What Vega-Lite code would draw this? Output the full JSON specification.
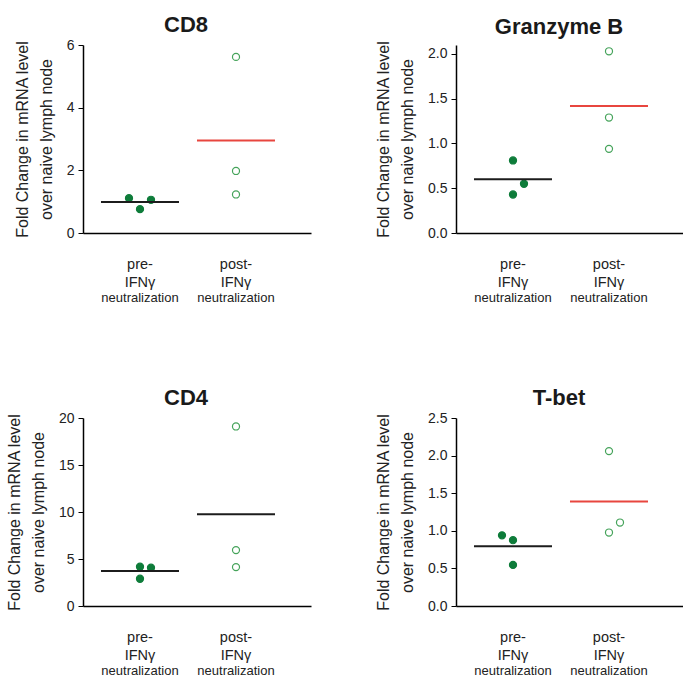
{
  "$schema": "https://vega.github.io/schema/vega-lite/v6.json",
  "padding": {"left": 6, "top": 14, "right": 0, "bottom": 0},
  "datasets": {
    "points": [
      {"gene": "CD8", "group": "pre", "slot": "left", "value": 1.11},
      {"gene": "CD8", "group": "pre", "slot": "center", "value": 0.76},
      {"gene": "CD8", "group": "pre", "slot": "right", "value": 1.06},
      {"gene": "CD8", "group": "post", "slot": "center", "value": 5.62},
      {"gene": "CD8", "group": "post", "slot": "center", "value": 1.98},
      {"gene": "CD8", "group": "post", "slot": "center", "value": 1.23},
      {"gene": "Granzyme B", "group": "pre", "slot": "center", "value": 0.81},
      {"gene": "Granzyme B", "group": "pre", "slot": "right", "value": 0.55},
      {"gene": "Granzyme B", "group": "pre", "slot": "center", "value": 0.43},
      {"gene": "Granzyme B", "group": "post", "slot": "center", "value": 2.03},
      {"gene": "Granzyme B", "group": "post", "slot": "center", "value": 1.29},
      {"gene": "Granzyme B", "group": "post", "slot": "center", "value": 0.94},
      {"gene": "CD4", "group": "pre", "slot": "center", "value": 4.18},
      {"gene": "CD4", "group": "pre", "slot": "right", "value": 4.07},
      {"gene": "CD4", "group": "pre", "slot": "center", "value": 2.9},
      {"gene": "CD4", "group": "post", "slot": "center", "value": 19.1},
      {"gene": "CD4", "group": "post", "slot": "center", "value": 5.95},
      {"gene": "CD4", "group": "post", "slot": "center", "value": 4.14},
      {"gene": "T-bet", "group": "pre", "slot": "left", "value": 0.94},
      {"gene": "T-bet", "group": "pre", "slot": "center", "value": 0.875},
      {"gene": "T-bet", "group": "pre", "slot": "center", "value": 0.546},
      {"gene": "T-bet", "group": "post", "slot": "center", "value": 2.06},
      {"gene": "T-bet", "group": "post", "slot": "center", "value": 0.977},
      {"gene": "T-bet", "group": "post", "slot": "right", "value": 1.11}
    ],
    "means": [
      {"gene": "CD8", "group": "pre", "value": 0.99, "sig": "no"},
      {"gene": "CD8", "group": "post", "value": 2.95, "sig": "yes"},
      {"gene": "Granzyme B", "group": "pre", "value": 0.6, "sig": "no"},
      {"gene": "Granzyme B", "group": "post", "value": 1.42, "sig": "yes"},
      {"gene": "CD4", "group": "pre", "value": 3.72, "sig": "no"},
      {"gene": "CD4", "group": "post", "value": 9.77, "sig": "no"},
      {"gene": "T-bet", "group": "pre", "value": 0.795, "sig": "no"},
      {"gene": "T-bet", "group": "post", "value": 1.39, "sig": "yes"}
    ]
  },
  "columns": 2,
  "spacing": {"row": 83, "column": 64},
  "concat": [
    {
      "title": {"text": "CD8"},
      "width": 228, "height": 188,
      "encoding": {
        "y": {"field": "value", "type": "quantitative", "scale": {"domain": [0, 6], "nice": false},
          "axis": {"values": [0, 2, 4, 6], "format": "d", "title": ["Fold Change in mRNA level", "over naive lymph node"]}}
      },
      "layer": [
        {"data": {"name": "points"}, "transform": [{"filter": "datum.gene === 'CD8'"}],
          "mark": {"type": "point", "shape": "circle", "size": 50, "strokeWidth": 1.2, "opacity": 1},
          "encoding": {
            "x": {"field": "group", "type": "nominal", "scale": {"domain": ["pre", "post"], "paddingInner": 0.65625, "paddingOuter": 0.5156, "align": 0.409},
              "axis": {"labelExpr": "datum.value === 'pre' ? ['pre-', 'IFNγ'] : ['post-', 'IFNγ']", "labelFontSize": 14.5, "labelLineHeight": 18, "labelPadding": 35}},
            "xOffset": {"field": "slot", "type": "nominal", "scale": {"domain": ["left", "center", "right"]}},
            "fill": {"field": "group", "type": "nominal", "scale": {"domain": ["pre", "post"], "range": ["#0e7c3a", "#ffffff"]}, "legend": null},
            "stroke": {"field": "group", "type": "nominal", "scale": {"domain": ["pre", "post"], "range": ["#0e7c3a", "#45a35a"]}, "legend": null}
          }},
        {"data": {"name": "means"}, "transform": [{"filter": "datum.gene === 'CD8'"}],
          "mark": {"type": "tick", "size": 78, "thickness": 2, "opacity": 1},
          "encoding": {
            "x": {"field": "group", "type": "nominal", "scale": {"domain": ["pre", "post"], "paddingInner": 0.65625, "paddingOuter": 0.5156, "align": 0.409},
              "axis": {"orient": "bottom", "domain": false, "labelExpr": "'neutralization'", "labelFontSize": 13, "labelPadding": 68}},
            "color": {"field": "sig", "type": "nominal", "scale": {"domain": ["no", "yes"], "range": ["#1c1c1c", "#e8463f"]}, "legend": null}
          }}
      ],
      "resolve": {"scale": {"x": "independent"}, "axis": {"x": "independent"}}
    },
    {
      "title": {"text": "Granzyme B"},
      "width": 228, "height": 188,
      "encoding": {
        "y": {"field": "value", "type": "quantitative", "scale": {"domain": [0, 2.1], "nice": false},
          "axis": {"values": [0, 0.5, 1, 1.5, 2], "format": ".1f", "title": ["Fold Change in mRNA level", "over naive lymph node"]}}
      },
      "layer": [
        {"data": {"name": "points"}, "transform": [{"filter": "datum.gene === 'Granzyme B'"}],
          "mark": {"type": "point", "shape": "circle", "size": 50, "strokeWidth": 1.2, "opacity": 1},
          "encoding": {
            "x": {"field": "group", "type": "nominal", "scale": {"domain": ["pre", "post"], "paddingInner": 0.65625, "paddingOuter": 0.5156, "align": 0.409},
              "axis": {"labelExpr": "datum.value === 'pre' ? ['pre-', 'IFNγ'] : ['post-', 'IFNγ']", "labelFontSize": 14.5, "labelLineHeight": 18, "labelPadding": 35}},
            "xOffset": {"field": "slot", "type": "nominal", "scale": {"domain": ["left", "center", "right"]}},
            "fill": {"field": "group", "type": "nominal", "scale": {"domain": ["pre", "post"], "range": ["#0e7c3a", "#ffffff"]}, "legend": null},
            "stroke": {"field": "group", "type": "nominal", "scale": {"domain": ["pre", "post"], "range": ["#0e7c3a", "#45a35a"]}, "legend": null}
          }},
        {"data": {"name": "means"}, "transform": [{"filter": "datum.gene === 'Granzyme B'"}],
          "mark": {"type": "tick", "size": 78, "thickness": 2, "opacity": 1},
          "encoding": {
            "x": {"field": "group", "type": "nominal", "scale": {"domain": ["pre", "post"], "paddingInner": 0.65625, "paddingOuter": 0.5156, "align": 0.409},
              "axis": {"orient": "bottom", "domain": false, "labelExpr": "'neutralization'", "labelFontSize": 13, "labelPadding": 68}},
            "color": {"field": "sig", "type": "nominal", "scale": {"domain": ["no", "yes"], "range": ["#1c1c1c", "#e8463f"]}, "legend": null}
          }}
      ],
      "resolve": {"scale": {"x": "independent"}, "axis": {"x": "independent"}}
    },
    {
      "title": {"text": "CD4"},
      "width": 228, "height": 188,
      "encoding": {
        "y": {"field": "value", "type": "quantitative", "scale": {"domain": [0, 20], "nice": false},
          "axis": {"values": [0, 5, 10, 15, 20], "format": "d", "title": ["Fold Change in mRNA level", "over naive lymph node"]}}
      },
      "layer": [
        {"data": {"name": "points"}, "transform": [{"filter": "datum.gene === 'CD4'"}],
          "mark": {"type": "point", "shape": "circle", "size": 50, "strokeWidth": 1.2, "opacity": 1},
          "encoding": {
            "x": {"field": "group", "type": "nominal", "scale": {"domain": ["pre", "post"], "paddingInner": 0.65625, "paddingOuter": 0.5156, "align": 0.409},
              "axis": {"labelExpr": "datum.value === 'pre' ? ['pre-', 'IFNγ'] : ['post-', 'IFNγ']", "labelFontSize": 14.5, "labelLineHeight": 18, "labelPadding": 35}},
            "xOffset": {"field": "slot", "type": "nominal", "scale": {"domain": ["left", "center", "right"]}},
            "fill": {"field": "group", "type": "nominal", "scale": {"domain": ["pre", "post"], "range": ["#0e7c3a", "#ffffff"]}, "legend": null},
            "stroke": {"field": "group", "type": "nominal", "scale": {"domain": ["pre", "post"], "range": ["#0e7c3a", "#45a35a"]}, "legend": null}
          }},
        {"data": {"name": "means"}, "transform": [{"filter": "datum.gene === 'CD4'"}],
          "mark": {"type": "tick", "size": 78, "thickness": 2, "opacity": 1},
          "encoding": {
            "x": {"field": "group", "type": "nominal", "scale": {"domain": ["pre", "post"], "paddingInner": 0.65625, "paddingOuter": 0.5156, "align": 0.409},
              "axis": {"orient": "bottom", "domain": false, "labelExpr": "'neutralization'", "labelFontSize": 13, "labelPadding": 68}},
            "color": {"field": "sig", "type": "nominal", "scale": {"domain": ["no", "yes"], "range": ["#1c1c1c", "#e8463f"]}, "legend": null}
          }}
      ],
      "resolve": {"scale": {"x": "independent"}, "axis": {"x": "independent"}}
    },
    {
      "title": {"text": "T-bet"},
      "width": 228, "height": 188,
      "encoding": {
        "y": {"field": "value", "type": "quantitative", "scale": {"domain": [0, 2.5], "nice": false},
          "axis": {"values": [0, 0.5, 1, 1.5, 2, 2.5], "format": ".1f", "title": ["Fold Change in mRNA level", "over naive lymph node"]}}
      },
      "layer": [
        {"data": {"name": "points"}, "transform": [{"filter": "datum.gene === 'T-bet'"}],
          "mark": {"type": "point", "shape": "circle", "size": 50, "strokeWidth": 1.2, "opacity": 1},
          "encoding": {
            "x": {"field": "group", "type": "nominal", "scale": {"domain": ["pre", "post"], "paddingInner": 0.65625, "paddingOuter": 0.5156, "align": 0.409},
              "axis": {"labelExpr": "datum.value === 'pre' ? ['pre-', 'IFNγ'] : ['post-', 'IFNγ']", "labelFontSize": 14.5, "labelLineHeight": 18, "labelPadding": 35}},
            "xOffset": {"field": "slot", "type": "nominal", "scale": {"domain": ["left", "center", "right"]}},
            "fill": {"field": "group", "type": "nominal", "scale": {"domain": ["pre", "post"], "range": ["#0e7c3a", "#ffffff"]}, "legend": null},
            "stroke": {"field": "group", "type": "nominal", "scale": {"domain": ["pre", "post"], "range": ["#0e7c3a", "#45a35a"]}, "legend": null}
          }},
        {"data": {"name": "means"}, "transform": [{"filter": "datum.gene === 'T-bet'"}],
          "mark": {"type": "tick", "size": 78, "thickness": 2, "opacity": 1},
          "encoding": {
            "x": {"field": "group", "type": "nominal", "scale": {"domain": ["pre", "post"], "paddingInner": 0.65625, "paddingOuter": 0.5156, "align": 0.409},
              "axis": {"orient": "bottom", "domain": false, "labelExpr": "'neutralization'", "labelFontSize": 13, "labelPadding": 68}},
            "color": {"field": "sig", "type": "nominal", "scale": {"domain": ["no", "yes"], "range": ["#1c1c1c", "#e8463f"]}, "legend": null}
          }}
      ],
      "resolve": {"scale": {"x": "independent"}, "axis": {"x": "independent"}}
    }
  ],
  "config": {
    "font": "Liberation Sans",
    "view": {"stroke": null},
    "title": {"fontSize": 22, "fontWeight": "bold", "anchor": "middle", "frame": "group", "dx": -11, "offset": 1, "color": "#1a1a1a"},
    "axisX": {"title": null, "labelAngle": 0, "ticks": false, "grid": false, "domainColor": "#000000", "domainWidth": 1.5, "labelColor": "#222222", "labelBaseline": "alphabetic", "labelFlush": false, "labelOverlap": false, "labelBound": false},
    "axisY": {"titleFontSize": 16, "titleFontWeight": "normal", "titleLineHeight": 24, "titlePadding": 12, "titleColor": "#222222", "grid": false, "labelFontSize": 14, "labelColor": "#222222", "tickColor": "#000000", "tickSize": 5, "domainColor": "#000000", "domainWidth": 1.5, "labelPadding": 4}
  }
}
